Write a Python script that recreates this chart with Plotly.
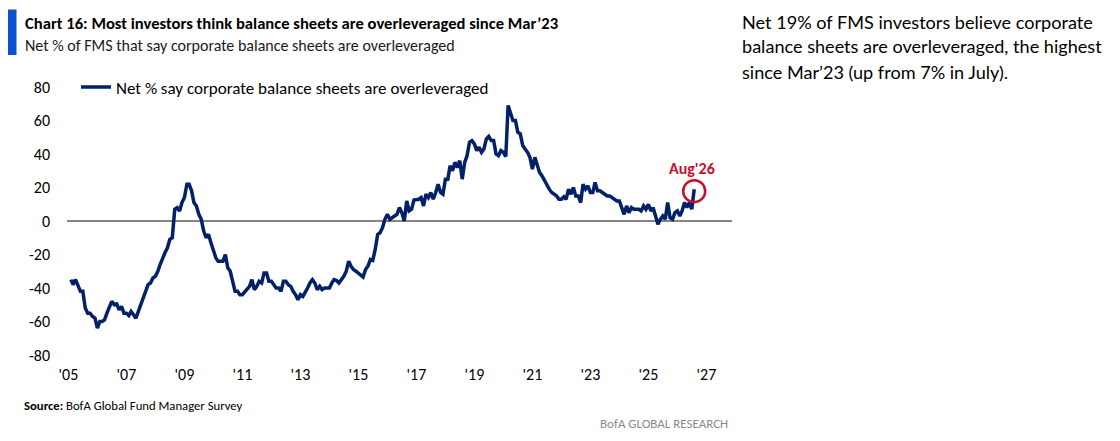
import pandas as pd
import plotly.graph_objects as go

# ---------------- data (monthly, Feb-2005 .. Aug-2026) ----------------
START_MONTH = "2005-02-01"
v2005 = [-35, -38, -35, -38, -42, -42, -52, -55, -55, -57, -58]
v2006 = [-64, -60, -60, -59, -55, -51, -48, -50, -49.5, -53, -51, -55]
v2007 = [-55, -56.5, -54, -56, -58, -54, -50, -46, -43, -38, -37, -34]
v2008 = [-33, -30, -26, -22, -19, -16, -11, -10, 7, 8, 6, 11]
v2009 = [14, 22, 22, 18, 11, 9, 4, 1, -6, -10, -8, -13]
v2010 = [-18, -22, -24, -24, -24, -20, -28, -30, -36, -42, -42, -44]
v2011 = [-44, -42, -41, -39, -35, -41, -39, -36, -37, -31, -31, -36]
v2012 = [-36, -38, -40, -40, -42, -36, -36, -38, -39, -42, -44, -47]
v2013 = [-44, -45, -43, -40, -37, -35, -37, -41, -39, -41, -40, -40]
v2014 = [-40, -37, -35, -35.5, -37, -35, -33, -30, -24, -27, -29, -30]
v2015 = [-31, -32, -33.5, -29, -27, -23, -23.5, -17, -8, -7, -4, 1]
v2016 = [4, 1, 2, 3, 4, 8, 5, 0, 12, 6, 7, 12.5]
v2017 = [13, 13, 14, 9, 16, 14, 17, 13, 17, 22, 17, 16]
v2018 = [25, 25, 33, 30, 35, 32, 36, 25, 35, 39, 47, 48]
v2019 = [46, 42, 44, 41, 43, 49, 50.5, 48, 48, 40, 39, 42]
v2020 = [41, 38.5, 69, 65, 60, 60, 53, 52, 45, 43, 41, 38]
v2021 = [31, 38, 33, 29, 27, 24, 21, 19, 17, 16, 15, 13]
v2022 = [13, 14.5, 13, 19, 16, 20, 15, 15, 11, 22, 19, 21]
v2023 = [17, 17, 23, 18, 18, 17, 16, 15, 15, 14, 13, 12]
v2024 = [12, 8, 4, 9, 5, 8, 7, 7, 7, 6, 9, 7]
v2025 = [10, 6, 8, 3, -2, 1, 3, 1, 11, 2, 1, 5]
v2026 = [6, 3, 6, 11, 8, 11, 7, 19]

SERIES_NAME = "Net % say corporate balance sheets are overleveraged"
X_TICK_YEARS = [2005, 2007, 2009, 2011, 2013, 2015, 2017, 2019, 2021, 2023, 2025, 2027]
Y_TICKS = [-80, -60, -40, -20, 0, 20, 40, 60, 80]
LAST_LABEL = "Aug'26"

values = (v2005 + v2006 + v2007 + v2008 + v2009 + v2010 + v2011 + v2012 + v2013
          + v2014 + v2015 + v2016 + v2017 + v2018 + v2019 + v2020 + v2021
          + v2022 + v2023 + v2024 + v2025 + v2026)
dates = pd.date_range(START_MONTH, periods=len(values), freq="MS")

# ---------------- layout geometry (screen pixels) ----------------
OFF = 8                      # default page body margin
SCREEN_W, SCREEN_H = 1120, 441
W, H = SCREEN_W - OFF, SCREEN_H - OFF
PX0, PX1, PY0, PY1 = 67, 732, 87, 355   # plot area on screen
L, T = PX0 - OFF, PY0 - OFF
R, B = W - (PX1 - OFF), H - (PY1 - OFF)
PW, PH = PX1 - PX0, PY1 - PY0

NAVY = "#022169"
RED = "#C8102E"
BLUE_BAR = "#0B52CF"
NARROW = "'Liberation Sans Narrow', 'Arial Narrow', Carlito, Calibri, Lato, sans-serif"
BODY = "Lato, 'Open Sans', sans-serif"


def pxx(px):
    return (px - PX0) / PW


def pxy(py):
    return (PY1 - py) / PH


fig = go.Figure()
fig.add_trace(go.Scatter(
    x=dates, y=values, mode="lines", name=SERIES_NAME,
    line=dict(color=NAVY, width=3.5),
))

fig.update_layout(
    width=W, height=H,
    margin=dict(l=L, r=R, t=T, b=B, pad=0),
    paper_bgcolor="white", plot_bgcolor="white",
    font=dict(family=NARROW, size=16, color="#000000"),
    showlegend=True,
    legend=dict(x=pxx(76), y=pxy(87.5), xanchor="left", yanchor="middle",
                bgcolor="rgba(0,0,0,0)", font=dict(family=NARROW, size=17),
                itemwidth=30),
    xaxis=dict(
        type="date",
        range=["2004-12-14", "2027-11-20"],
        tickvals=[f"{y}-01-01" for y in X_TICK_YEARS],
        ticktext=[f"'{str(y)[2:]}" for y in X_TICK_YEARS],
        showgrid=False, zeroline=False, showline=False, ticks="",
        ticklabelstandoff=8,
        tickfont=dict(family=NARROW, size=16, color="#000000"),
    ),
    yaxis=dict(
        range=[-80, 80],
        tickvals=Y_TICKS,
        ticktext=[str(v) for v in Y_TICKS],
        showgrid=False, showline=False, ticks="",
        zeroline=True, zerolinecolor="#858585", zerolinewidth=2,
        ticklabelstandoff=16,
        tickfont=dict(family=NARROW, size=16, color="#000000"),
    ),
)

# header bar
fig.add_shape(type="rect", xref="paper", yref="paper",
              x0=pxx(7), x1=pxx(16.5), y0=pxy(55), y1=pxy(9.5),
              fillcolor=BLUE_BAR, line=dict(width=0))

annos = [
    dict(text="<b>Chart 16: Most investors think balance sheets are overleveraged since Mar’23</b>",
         x=pxx(23), y=pxy(23), font=dict(family=NARROW, size=16.6, color="#000000")),
    dict(text="Net % of FMS that say corporate balance sheets are overleveraged",
         x=pxx(23), y=pxy(45), font=dict(family=NARROW, size=16, color="#1a1a1a")),
    dict(text="<b>Source:</b> BofA Global Fund Manager Survey",
         x=pxx(22), y=pxy(405), font=dict(family=NARROW, size=12.7, color="#000000")),
    dict(text="Net 19% of FMS investors believe corporate",
         x=pxx(740), y=pxy(21.5), font=dict(family=BODY, size=18.1, color="#000000")),
    dict(text="balance sheets are overleveraged, the highest",
         x=pxx(740), y=pxy(46.5), font=dict(family=BODY, size=18.1, color="#000000")),
    dict(text="since Mar’23 (up from 7% in July).",
         x=pxx(740), y=pxy(71.5), font=dict(family=BODY, size=18.1, color="#000000")),
]
for a in annos:
    fig.add_annotation(xref="paper", yref="paper", xanchor="left", yanchor="middle",
                       showarrow=False, align="left", **a)

fig.add_annotation(text="BofA GLOBAL RESEARCH", xref="paper", yref="paper",
                   x=pxx(730), y=pxy(423), xanchor="right", yanchor="middle",
                   showarrow=False, font=dict(family=NARROW, size=13, color="#8a8a8a"))

# highlight of the latest reading
last_x, last_y = dates[-1], values[-1]
fig.add_shape(type="circle", xref="x", yref="y",
              xsizemode="pixel", ysizemode="pixel",
              xanchor=last_x, yanchor=last_y,
              x0=-11, x1=11, y0=-13, y1=9,
              line=dict(color=RED, width=2.5), fillcolor="rgba(0,0,0,0)")
fig.add_annotation(x=last_x, y=last_y, xref="x", yref="y", text=f"<b>{LAST_LABEL}</b>",
                   showarrow=False, yshift=21, xshift=-2,
                   font=dict(family=NARROW, size=16, color=RED))

fig.write_html("out.html")
